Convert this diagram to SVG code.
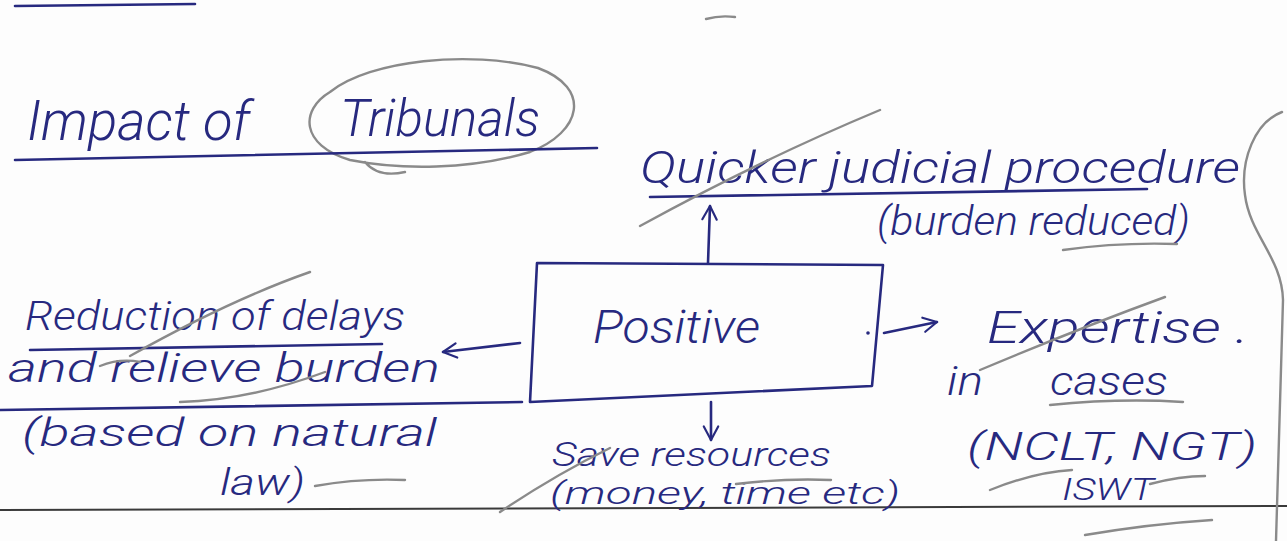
<svg xmlns="http://www.w3.org/2000/svg" width="1287" height="541" viewBox="0 0 1287 541">
  <defs>
    <style>
      .ink { fill: #27297f; font-family: "Roboto", "Liberation Sans", "DejaVu Sans", sans-serif; font-weight: 300; font-style: italic; }
      .pen { fill: none; stroke: #27297f; stroke-width: 2.6; stroke-linecap: round; stroke-linejoin: round; }
      .pencil { fill: none; stroke: #8a8a8a; stroke-width: 2.4; stroke-linecap: round; }
      .rule { fill: none; stroke: #3a3a3a; stroke-width: 2; }
    </style>
    <!-- open, hand-drawn style arrowhead -->
    <marker id="head" viewBox="0 0 20 20" refX="18" refY="10" markerWidth="18" markerHeight="18" markerUnits="userSpaceOnUse" orient="auto" overflow="visible">
      <path d="M3,2 L18,10 L3,18" fill="none" stroke="#27297f" stroke-width="2.4" stroke-linecap="round" stroke-linejoin="round"/>
    </marker>
  </defs>

  <rect width="1287" height="541" fill="#fdfdfd"/>

  <!-- page lines -->
  <path class="pen" d="M15,6 L195,4"/>
  <path class="rule" d="M0,510 L1287,506"/>
  <path class="pencil" d="M706,19 Q720,15 735,17"/>
  <path class="pencil" d="M1282,112 C1255,122 1240,160 1245,195 C1250,235 1282,258 1283,300 L1276,541"/>

  <!-- title -->
  <g id="title">
    <text class="ink" x="27" y="140" font-size="56" textLength="223" lengthAdjust="spacingAndGlyphs">Impact of</text>
    <text class="ink" x="340" y="136" font-size="52" textLength="200" lengthAdjust="spacingAndGlyphs">Tribunals</text>
    <path class="pencil" d="M330,92 C370,60 470,50 538,68 C592,88 582,132 530,152 C470,170 400,170 350,160 C300,145 300,110 330,92 Z M365,162 Q378,178 405,172"/>
    <path class="pen" d="M15,160 L597,148"/>
  </g>

  <!-- central box -->
  <g id="positive">
    <path class="pen" d="M537,263 L883,265 L872,386 L530,402 Z"/>
    <text class="ink" x="593" y="343" font-size="46" textLength="167" lengthAdjust="spacingAndGlyphs">Positive</text>
    <circle cx="868" cy="333" r="1.8" fill="#27297f"/>
  </g>

  <!-- outcomes -->
  <g id="quicker">
    <text class="ink" x="640" y="183" font-size="44" textLength="600" lengthAdjust="spacingAndGlyphs">Quicker judicial procedure</text>
    <path class="pen" d="M650,197 L1147,189"/>
    <text class="ink" x="877" y="235" font-size="40" textLength="313" lengthAdjust="spacingAndGlyphs">(burden reduced)</text>
    <path class="pencil" d="M640,226 Q760,160 880,110"/>
    <path class="pencil" d="M1063,250 Q1120,242 1177,244"/>
  </g>

  <g id="reduction">
    <text class="ink" x="25" y="330" font-size="40" textLength="380" lengthAdjust="spacingAndGlyphs">Reduction of delays</text>
    <path class="pen" d="M30,350 L382,344"/>
    <text class="ink" x="8" y="382" font-size="40" textLength="432" lengthAdjust="spacingAndGlyphs">and relieve burden</text>
    <path class="pen" d="M0,410 L522,402"/>
    <text class="ink" x="22" y="446" font-size="38" textLength="415" lengthAdjust="spacingAndGlyphs">(based on natural</text>
    <text class="ink" x="220" y="495" font-size="36" textLength="85" lengthAdjust="spacingAndGlyphs">law)</text>
    <path class="pencil" d="M100,366 Q120,358 140,362 M130,356 Q230,300 310,272"/>
    <path class="pencil" d="M180,402 Q250,400 325,372"/>
    <path class="pencil" d="M315,486 Q360,478 405,480" stroke-width="3.2"/>
  </g>

  <g id="expertise">
    <text class="ink" x="987" y="343" font-size="44" textLength="262" lengthAdjust="spacingAndGlyphs">Expertise .</text>
    <text class="ink" x="947" y="395" font-size="40" textLength="36" lengthAdjust="spacingAndGlyphs">in</text>
    <text class="ink" x="1050" y="395" font-size="40" textLength="118" lengthAdjust="spacingAndGlyphs">cases</text>
    <text class="ink" x="967" y="460" font-size="38" textLength="290" lengthAdjust="spacingAndGlyphs">(NCLT, NGT)</text>
    <text class="ink" x="1062" y="500" font-size="32" textLength="92" lengthAdjust="spacingAndGlyphs">ISWT</text>
    <path class="pencil" d="M980,370 Q1080,328 1165,297"/>
    <path class="pencil" d="M1050,405 Q1120,398 1183,402"/>
    <path class="pencil" d="M990,490 Q1035,472 1072,470 M1150,484 Q1180,476 1205,476"/>
    <path class="pencil" d="M1085,535 Q1150,524 1212,520"/>
  </g>

  <g id="resources">
    <text class="ink" x="552" y="466" font-size="34" textLength="279" lengthAdjust="spacingAndGlyphs">Save resources</text>
    <text class="ink" x="550" y="504" font-size="32" textLength="350" lengthAdjust="spacingAndGlyphs">(money, time etc)</text>
    <path class="pencil" d="M500,512 Q555,475 610,448"/>
    <path class="pencil" d="M736,484 Q785,478 831,480"/>
  </g>

  <!-- connectors -->
  <g id="connectors">
    <path class="pen" d="M708,263 L710,206" marker-end="url(#head)"/>
    <path class="pen" d="M711,402 L711,440" marker-end="url(#head)"/>
    <path class="pen" d="M884,333 L937,322" marker-end="url(#head)"/>
    <path class="pen" d="M520,343 L443,352" marker-end="url(#head)"/>
  </g>
</svg>
